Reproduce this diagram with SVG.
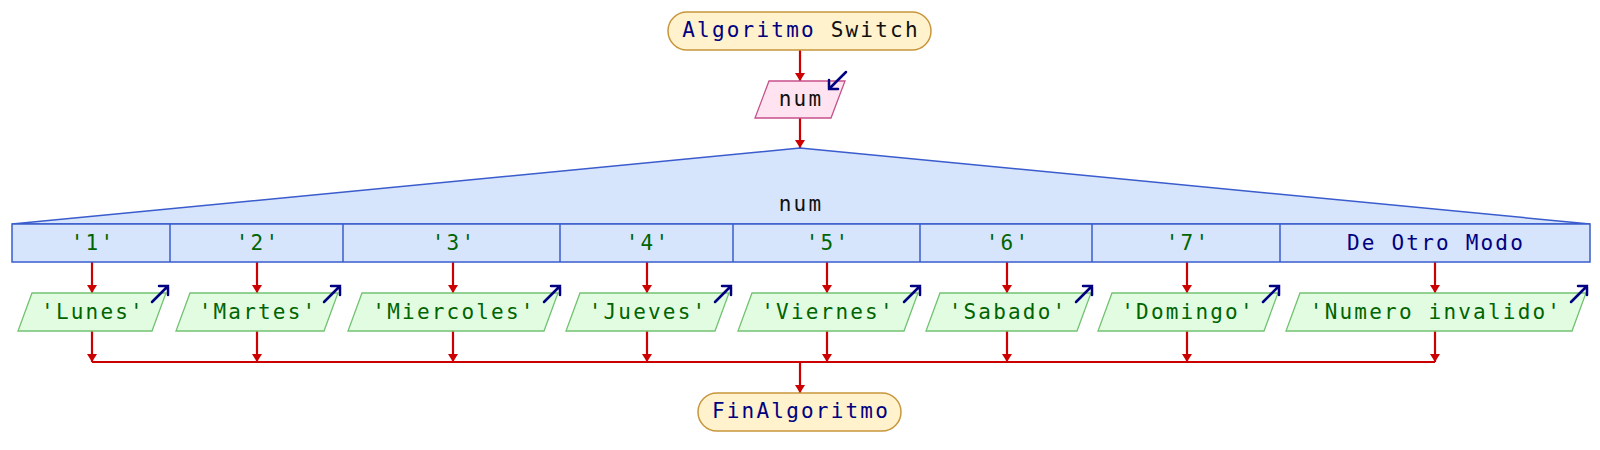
<svg xmlns="http://www.w3.org/2000/svg" xmlns:xlink="http://www.w3.org/1999/xlink" width="1600" height="450" viewBox="0 0 1600 450">
<defs>
<style>
text{font-family:"DejaVu Sans Mono","Liberation Mono",monospace;font-size:21px;letter-spacing:2.2px;text-anchor:middle}
.kw{fill:#000080}
.blk{fill:#111111}
.str{fill:#006400}
.term{fill:#fff2cc;stroke:#c8963c;stroke-width:1.5}
.inp{fill:#ffe3f0;stroke:#c8508a;stroke-width:1.3}
.sw{fill:#d6e4fc;stroke:#3a5ccc;stroke-width:1.5}
.out{fill:#e2fce2;stroke:#72c272;stroke-width:1.3}
.flow{stroke:#cc0000;stroke-width:2.2;fill:none}
.io{stroke:#000080;stroke-width:2.5;fill:none;stroke-linecap:round;stroke-linejoin:miter}
</style>
<marker id="ah" markerUnits="userSpaceOnUse" markerWidth="11" markerHeight="11" refX="8" refY="5.5" orient="auto">
<path d="M0,0.5 L8,5.5 L0,10.5 z" fill="#cc0000"/>
</marker>
<path id="outArrow" class="io" d="M-16,16 L0,0 M-9,0 L0,0 L0,9"/>
</defs>

<g id="connectors">
<path class="flow" d="M800,50 L800,81" marker-end="url(#ah)"/>
<path class="flow" d="M800,118 L800,148" marker-end="url(#ah)"/>
<path class="flow" d="M92,262 L92,293" marker-end="url(#ah)"/>
<path class="flow" d="M257,262 L257,293" marker-end="url(#ah)"/>
<path class="flow" d="M453,262 L453,293" marker-end="url(#ah)"/>
<path class="flow" d="M647,262 L647,293" marker-end="url(#ah)"/>
<path class="flow" d="M827,262 L827,293" marker-end="url(#ah)"/>
<path class="flow" d="M1007,262 L1007,293" marker-end="url(#ah)"/>
<path class="flow" d="M1187,262 L1187,293" marker-end="url(#ah)"/>
<path class="flow" d="M1435,262 L1435,293" marker-end="url(#ah)"/>
<path class="flow" d="M92,331 L92,362" marker-end="url(#ah)"/>
<path class="flow" d="M257,331 L257,362" marker-end="url(#ah)"/>
<path class="flow" d="M453,331 L453,362" marker-end="url(#ah)"/>
<path class="flow" d="M647,331 L647,362" marker-end="url(#ah)"/>
<path class="flow" d="M827,331 L827,362" marker-end="url(#ah)"/>
<path class="flow" d="M1007,331 L1007,362" marker-end="url(#ah)"/>
<path class="flow" d="M1187,331 L1187,362" marker-end="url(#ah)"/>
<path class="flow" d="M1435,331 L1435,362" marker-end="url(#ah)"/>
<path class="flow" d="M92,362 L1435,362"/>
<path class="flow" d="M800,362 L800,393" marker-end="url(#ah)"/>
</g>

<g id="start">
<rect class="term" x="668" y="12" width="263" height="38" rx="19"/>
<text x="801" y="37"><tspan class="kw">Algoritmo</tspan><tspan class="blk"> Switch</tspan></text>
</g>

<g id="input-num">
<polygon class="inp" points="769,81 845,81 831,118 755,118"/>
<text class="blk" x="801" y="106">num</text>
<path class="io" d="M846,72 L829,89 M829,80 L829,89 L838,89"/>
</g>

<g id="switch">
<polygon class="sw" points="800,148 1590,224 12,224"/>
<rect class="sw" x="12" y="224" width="1578" height="38"/>
<line class="sw" x1="170" y1="224" x2="170" y2="262"/>
<line class="sw" x1="343" y1="224" x2="343" y2="262"/>
<line class="sw" x1="560" y1="224" x2="560" y2="262"/>
<line class="sw" x1="733" y1="224" x2="733" y2="262"/>
<line class="sw" x1="920" y1="224" x2="920" y2="262"/>
<line class="sw" x1="1092" y1="224" x2="1092" y2="262"/>
<line class="sw" x1="1280" y1="224" x2="1280" y2="262"/>
<text class="blk" x="801" y="211">num</text>
<text class="str" x="93" y="250">'1'</text>
<text class="str" x="258" y="250">'2'</text>
<text class="str" x="454" y="250">'3'</text>
<text class="str" x="648" y="250">'4'</text>
<text class="str" x="828" y="250">'5'</text>
<text class="str" x="1008" y="250">'6'</text>
<text class="str" x="1188" y="250">'7'</text>
<text class="kw" x="1436" y="250">De Otro Modo</text>
</g>

<g id="out-lunes">
<polygon class="out" points="32,293 166,293 152,331 18,331"/>
<text class="str" x="93" y="319">'Lunes'</text>
<use href="#outArrow" x="168" y="286"/>
</g>
<g id="out-martes">
<polygon class="out" points="190,293 338,293 324,331 176,331"/>
<text class="str" x="258" y="319">'Martes'</text>
<use href="#outArrow" x="340" y="286"/>
</g>
<g id="out-miercoles">
<polygon class="out" points="362,293 558,293 544,331 348,331"/>
<text class="str" x="454" y="319">'Miercoles'</text>
<use href="#outArrow" x="560" y="286"/>
</g>
<g id="out-jueves">
<polygon class="out" points="580,293 729,293 715,331 566,331"/>
<text class="str" x="648" y="319">'Jueves'</text>
<use href="#outArrow" x="731" y="286"/>
</g>
<g id="out-viernes">
<polygon class="out" points="752,293 918,293 904,331 738,331"/>
<text class="str" x="828" y="319">'Viernes'</text>
<use href="#outArrow" x="920" y="286"/>
</g>
<g id="out-sabado">
<polygon class="out" points="940,293 1091,293 1077,331 926,331"/>
<text class="str" x="1008" y="319">'Sabado'</text>
<use href="#outArrow" x="1092" y="286"/>
</g>
<g id="out-domingo">
<polygon class="out" points="1112,293 1278,293 1264,331 1098,331"/>
<text class="str" x="1188" y="319">'Domingo'</text>
<use href="#outArrow" x="1279" y="286"/>
</g>
<g id="out-invalido">
<polygon class="out" points="1300,293 1586,293 1572,331 1286,331"/>
<text class="str" x="1436" y="319">'Numero invalido'</text>
<use href="#outArrow" x="1587" y="286"/>
</g>

<g id="end">
<rect class="term" x="698" y="393" width="203" height="38" rx="19"/>
<text class="kw" x="801" y="418">FinAlgoritmo</text>
</g>
</svg>
